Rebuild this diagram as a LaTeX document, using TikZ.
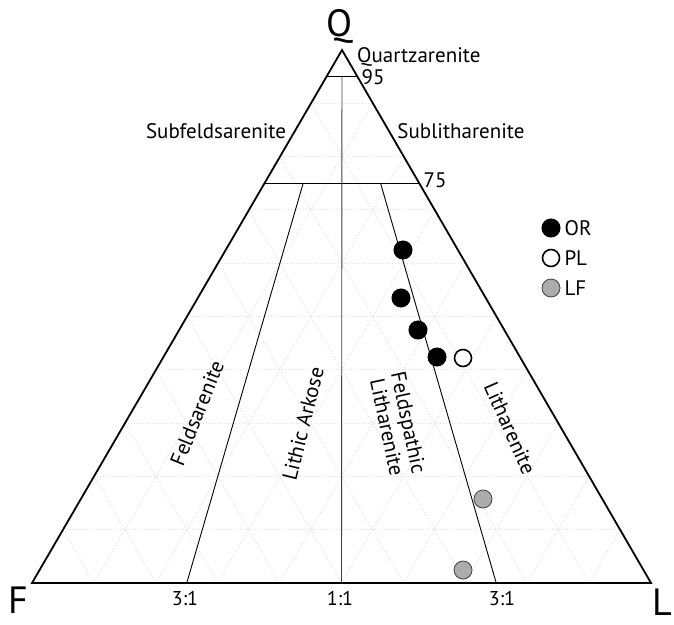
\documentclass[tikz,border=0pt]{standalone}
\usepackage{fontspec}
\setmainfont{PT Sans}
\usetikzlibrary{calc}
\usetikzlibrary{positioning}

\begin{document}
\begin{tikzpicture}[x=1pt,y=-1pt,
  grid/.style={gray!25,dotted,line width=1pt},
  field/.style={font=\fontsize{21}{22}\selectfont,inner sep=0pt},
  tick/.style={font=\fontsize{20}{21}\selectfont,inner sep=1pt},
  apex/.style={font=\fontsize{38}{40}\selectfont,inner sep=0pt},
  sample/.style={circle,line width=1pt,minimum size=18pt,inner sep=0pt},
  orpt/.style={sample,draw=black,fill=black},
  plpt/.style={sample,draw=black,fill=white,line width=1.6pt,minimum size=17pt},
  lfpt/.style={sample,draw=gray!50!black,fill=gray!65,line width=0.8pt}]
  \useasboundingbox (0,0) rectangle (674,624);

  \coordinate (Qv) at (342,50);
  \coordinate (Fv) at (32,583);
  \coordinate (Lv) at (651,583);

  \foreach \i in {1,...,9}
  {
    \draw [grid] ($(Fv)!\i/10!(Qv)$) -- ($(Lv)!\i/10!(Qv)$);
    \draw [grid] ($(Fv)!\i/10!(Lv)$) -- ($(Qv)!\i/10!(Lv)$);
    \draw [grid] ($(Lv)!\i/10!(Fv)$) -- ($(Qv)!\i/10!(Fv)$);
  }

  \coordinate (q95l) at ($(Fv)!0.95!(Qv)$);
  \coordinate (q95r) at ($(Lv)!0.95!(Qv)$);
  \coordinate (q75l) at ($(Fv)!0.75!(Qv)$);
  \coordinate (q75r) at ($(Lv)!0.75!(Qv)$);
  \coordinate (b31l) at ($(Fv)!0.25!(Lv)$);
  \coordinate (b11) at ($(Fv)!0.5!(Lv)$);
  \coordinate (b31r) at ($(Fv)!0.75!(Lv)$);
  \coordinate (t31l) at ($(Qv)!0.25!(b31l)$);
  \coordinate (t31r) at ($(Qv)!0.25!(b31r)$);
  \coordinate (t11) at ($(Qv)!0.05!(b11)$);

  \draw [line width=0.9pt] (q95l) -- (q95r);
  \draw [line width=0.9pt] (q75l) -- (q75r);
  \draw [line width=0.9pt,black!75] (t11) -- (b11);
  \draw [line width=0.9pt] (t31l) -- (b31l);
  \draw [line width=0.9pt] (t31r) -- (b31r);
  \draw [line width=1.8pt,line join=miter] (Qv) -- (Fv) -- (Lv) -- cycle;
  \draw [line width=1.2pt] (Fv) -- (Lv);

  \node [apex] (qlab) at (339,26) {Q};
  \node [apex] (flab) at (18,600) {F};
  \node [apex] (llab) at (662,602) {L};

  \node [field,anchor=west] (quartz) at (357,57) {Quartzarenite};
  \node [field] (n95) at (373,77) {95};
  \node [field] (n75) at (435,180) {75};
  \node [field] (subf) at (216,131) {Subfeldsarenite};
  \node [field] (subl) at (461,131) {Sublitharenite};

  \node [field,rotate=68] (felds) at (197,413) {Feldsarenite};
  \node [field,rotate=76] (lithark) at (303,424) {Lithic Arkose};
  \node [field,rotate=-78,align=center] (feldlith) at (398,425) {Feldspathic\\Litharenite};
  \node [field,rotate=-66] (lith) at (510,428) {Litharenite};

  \node [tick] (r31l) at (185,598) {3:1};
  \node [tick] (r11) at (340,598) {1:1};
  \node [tick] (r31r) at (502,598) {3:1};

  \node [orpt] (or1) at (403,250) {};
  \node [orpt] (or2) at (401,298) {};
  \node [orpt] (or3) at (418,330) {};
  \node [orpt] (or4) at (437,357) {};
  \node [plpt] (pl1) at (463,358) {};
  \node [lfpt] (lf1) at (483,499) {};
  \node [lfpt] (lf2) at (463,570) {};

  \node [orpt] (keyor) at (551,228) {};
  \node [plpt] (keypl) at (551,258) {};
  \node [lfpt] (keylf) at (551,288) {};
  \node [field,right=4pt of keyor] (txtor) {OR};
  \node [field,right=4pt of keypl] (txtpl) {PL};
  \node [field,right=4pt of keylf] (txtlf) {LF};
\end{tikzpicture}
\end{document}
